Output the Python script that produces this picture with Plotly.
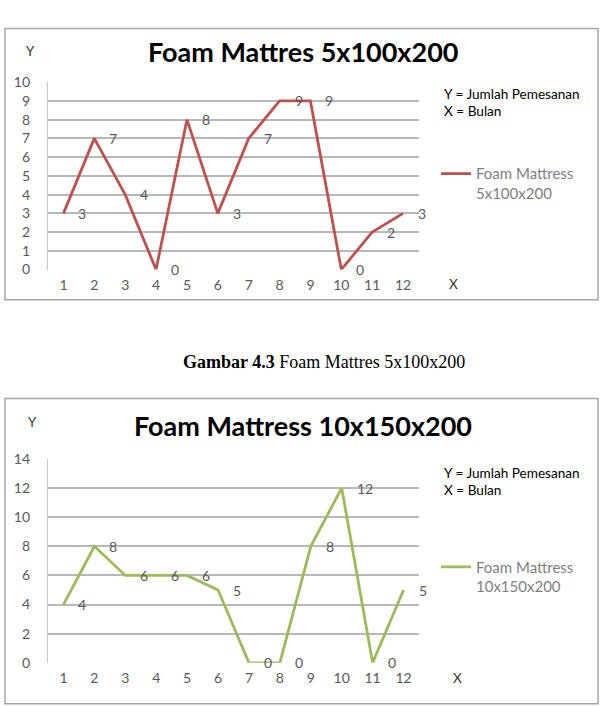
import plotly.graph_objects as go

months = [1, 2, 3, 4, 5, 6, 7, 8, 9, 10, 11, 12]
month_labels = [str(m) for m in months]
orders_5x100 = [3, 7, 4, 0, 8, 3, 7, 9, 9, 0, 2, 3]
orders_10x150 = [4, 8, 6, 6, 6, 5, 0, 0, 8, 12, 0, 5]
yticks_1 = list(range(0, 11, 1))
yticks_2 = list(range(0, 15, 2))

W, H = 607, 706
FONT = "Lato, 'Open Sans', sans-serif"
GRAY_TXT = "#595959"
RED = "#c0504d"
GREEN = "#9bbb59"

def px(x):
    return x / W

def py(y):
    return 1 - y / H

fig = go.Figure()

fig.add_trace(go.Scatter(x=months, y=orders_5x100, mode="lines",
                         line=dict(color=RED, width=2.8),
                         name="Foam Mattress<br>5x100x200",
                         xaxis="x", yaxis="y", legend="legend"))
fig.add_trace(go.Scatter(x=months, y=orders_10x150, mode="lines",
                         line=dict(color=GREEN, width=2.8),
                         name="Foam Mattress<br>10x150x200",
                         xaxis="x2", yaxis="y2", legend="legend2"))

annotations = []
for xa, ya, vals in (("x", "y", orders_5x100), ("x2", "y2", orders_10x150)):
    for m, v in zip(months, vals):
        annotations.append(dict(x=m, y=v, xref=xa, yref=ya, text=str(v),
                                showarrow=False, xanchor="left", xshift=13,
                                font=dict(family=FONT, size=14, color=GRAY_TXT)))

xax = dict(showgrid=False, zeroline=False, showline=False,
           tickfont=dict(family=FONT, size=14, color=GRAY_TXT),
           range=[0.5, 12.5], tickvals=months, ticktext=month_labels,
           ticks="", ticklabelstandoff=5, fixedrange=True)
yax_base = dict(showgrid=True, gridcolor="#b8b8b8", gridwidth=1.6, zeroline=False,
                showline=True, linecolor="#c8c8c8", linewidth=1.2,
                tickfont=dict(family=FONT, size=14, color=GRAY_TXT),
                ticks="", ticklabelstandoff=14, fixedrange=True)

legend_font = dict(family=FONT, size=15, color="#7f7f7f")
fig.update_layout(
    width=W, height=H, margin=dict(l=0, r=0, t=0, b=0),
    paper_bgcolor="white", plot_bgcolor="white",
    xaxis=dict(xax, domain=[px(48), px(418.5)], anchor="y"),
    yaxis=dict(yax_base, domain=[py(267), py(75)], range=[0, 10],
               tickvals=yticks_1, anchor="x"),
    xaxis2=dict(xax, domain=[px(48), px(419)], anchor="y2"),
    yaxis2=dict(yax_base, domain=[py(670), py(461)], range=[0, 14],
                tickvals=yticks_2, anchor="x2"),
    legend=dict(x=px(436), y=py(152), xanchor="left", yanchor="top", valign="top",
                bgcolor="rgba(0,0,0,0)", itemwidth=30, font=legend_font),
    legend2=dict(x=px(436), y=py(555), xanchor="left", yanchor="top", valign="top",
                 bgcolor="rgba(0,0,0,0)", itemwidth=30, font=legend_font),
    showlegend=True,
)

shapes = [
    dict(type="rect", xref="paper", yref="paper", x0=px(5), x1=px(598),
         y0=py(298), y1=py(20), line=dict(color="#a6a6a6", width=1.5)),
    dict(type="rect", xref="paper", yref="paper", x0=px(5), x1=px(598),
         y0=py(712), y1=py(399), line=dict(color="#a6a6a6", width=1.5)),
]
fig.update_layout(shapes=shapes)

def txt(x, y, text, size, color="black", family=FONT, xanchor="left"):
    annotations.append(dict(x=px(x), y=py(y), xref="paper", yref="paper", text=text,
                            showarrow=False, xanchor=xanchor, yanchor="middle",
                            font=dict(family=family, size=size, color=color)))

txt(303, 44, "<b>Foam Mattres 5x100x200</b>", 27, "black", xanchor="center")
txt(303, 427, "<b>Foam Mattress 10x150x200</b>", 27, "black", xanchor="center")
txt(30, 43, "Y", 13, "#333333", xanchor="center")
txt(453, 282, "X", 13.5, "#333333", xanchor="center")
txt(32, 423, "Y", 13, "#333333", xanchor="center")
txt(457, 686, "X", 13.5, "#333333", xanchor="center")
for y0 in (87, 475):
    txt(442, y0, "Y = Jumlah Pemesanan", 13.6, "black")
    txt(442, y0 + 18, "X = Bulan", 13.6, "black")
txt(324, 362, "<b>Gambar 4.3</b> Foam Mattres 5x100x200", 18, "black",
    family="'Liberation Serif', 'Times New Roman', serif", xanchor="center")

fig.update_layout(annotations=annotations)
fig.write_html("out.html")
